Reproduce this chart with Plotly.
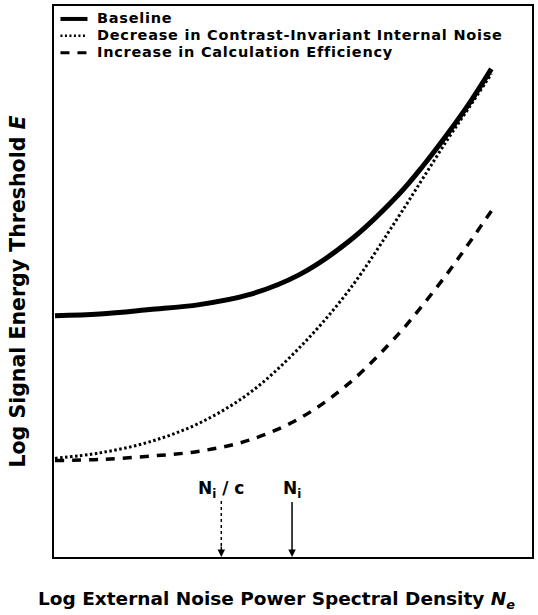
import plotly.graph_objects as go

# ---- data (axis units: arbitrary log units, 0..10) ----
base_x = [0.02, 0.96, 2.0, 3.04, 4.08, 5.125, 6.17, 7.21, 7.73, 8.25, 8.67, 9.15]
base_y = [4.38, 4.41, 4.49, 4.58, 4.76, 5.12, 5.73, 6.58, 7.11, 7.70, 8.21, 8.86]

noise_x = [0.02, 0.96, 2.0, 3.04, 4.08, 5.125, 6.17, 7.21, 7.73, 8.25, 8.67, 9.15]
noise_y = [1.79, 1.89, 2.09, 2.43, 2.97, 3.79, 4.84, 6.18, 6.89, 7.60, 8.14, 8.77]

eff_x = [0.02, 0.96, 2.0, 3.04, 4.08, 5.125, 6.17, 7.21, 7.73, 8.25, 8.67, 9.15]
eff_y = [1.75, 1.77, 1.83, 1.92, 2.12, 2.51, 3.15, 4.05, 4.59, 5.17, 5.68, 6.28]

names = ["Baseline",
         "Decrease in Contrast-Invariant Internal Noise",
         "Increase in Calculation Efficiency"]

ni_x = 4.98        # N_i marker position
ni_c_x = 3.50      # N_i / c marker position

FONT = "DejaVu Sans, Verdana, sans-serif"

styles = [dict(color="black", width=5),
          dict(color="black", width=3, dash="2.5px,2.5px"),
          dict(color="black", width=3.5, dash="9px,8px")]

fig = go.Figure()
for xs, ys, nm, st in zip([base_x, noise_x, eff_x], [base_y, noise_y, eff_y], names, styles):
    fig.add_trace(go.Scatter(x=xs, y=ys, mode="lines", name=nm, showlegend=False,
                             line=dict(shape="spline", **st)))

# ---- compact legend: one text block (tight line spacing) + key lines ----
leg_rows = [0.9765, 0.9458, 0.9150]
key_styles = [dict(color="black", width=4),
              dict(color="black", width=2.5, dash="2px,2.5px"),
              dict(color="black", width=3, dash="9px,8px")]
for yy, ks in zip(leg_rows, key_styles):
    fig.add_shape(type="line", xref="paper", yref="paper", x0=0.0135, x1=0.0700,
                  y0=yy, y1=yy, line=ks)
leg_text = "<br>".join('<span style="font-size:14.5px;letter-spacing:0.75px">' + n + "</span>"
                       for n in names)
fig.add_annotation(xref="paper", yref="paper", x=0.0854, y=leg_rows[0], xanchor="left",
                   yanchor="top", yshift=11, align="left", showarrow=False, text=leg_text,
                   font=dict(family=FONT, size=13.1, color="black", weight="bold"))

# N_i arrow (solid) with label
fig.add_annotation(x=ni_x, y=0, xref="x", yref="y", ax=0, ay=-68,
                   text="<b>N<sub>i</sub></b>", showarrow=True, arrowhead=2,
                   arrowsize=1, arrowwidth=1.5, arrowcolor="black", standoff=0,
                   font=dict(family=FONT, size=17, color="black"))
# N_i / c arrow (dotted) : label + dotted shaft + head
fig.add_annotation(x=ni_c_x, y=0, xref="x", yref="y",
                   text="<b>N<sub>i</sub> / c</b>", showarrow=False, yshift=68,
                   font=dict(family=FONT, size=17, color="black"))
fig.add_annotation(x=ni_c_x, y=0, xref="x", yref="y", ax=0, ay=-12,
                   text="", showarrow=True, arrowhead=2, arrowsize=1,
                   arrowwidth=1.5, arrowcolor="black", standoff=0)
fig.add_shape(type="line", xref="x", yref="y", x0=ni_c_x, x1=ni_c_x, y0=0.2, y1=1.03,
              line=dict(color="black", width=1.5, dash="dot"))

# axis titles
fig.add_annotation(xref="paper", yref="paper", x=0.466, y=-0.0778, xanchor="center",
                   yanchor="middle", showarrow=False,
                   text="<b>Log External Noise Power Spectral Density <i>N<sub>e</sub></i></b>",
                   font=dict(family=FONT, size=18.5, color="black"))
fig.add_annotation(xref="paper", yref="paper", x=-0.075, y=0.482, xanchor="center",
                   yanchor="middle", showarrow=False, textangle=-90,
                   text="<b>Log Signal Energy Threshold <i>E</i></b>",
                   font=dict(family=FONT, size=20.5, color="black"))

fig.update_layout(
    width=538, height=615,
    margin=dict(l=54, r=4, t=4, b=58),
    paper_bgcolor="white", plot_bgcolor="white",
    font=dict(family=FONT, color="black"),
    showlegend=False,
    xaxis=dict(range=[0, 10], showgrid=False, zeroline=False, showticklabels=False,
               ticks="", showline=True, mirror=True, linecolor="black", linewidth=1.5),
    yaxis=dict(range=[0, 10], showgrid=False, zeroline=False, showticklabels=False,
               ticks="", showline=True, mirror=True, linecolor="black", linewidth=1.5),
)

fig.write_html("out.html")
